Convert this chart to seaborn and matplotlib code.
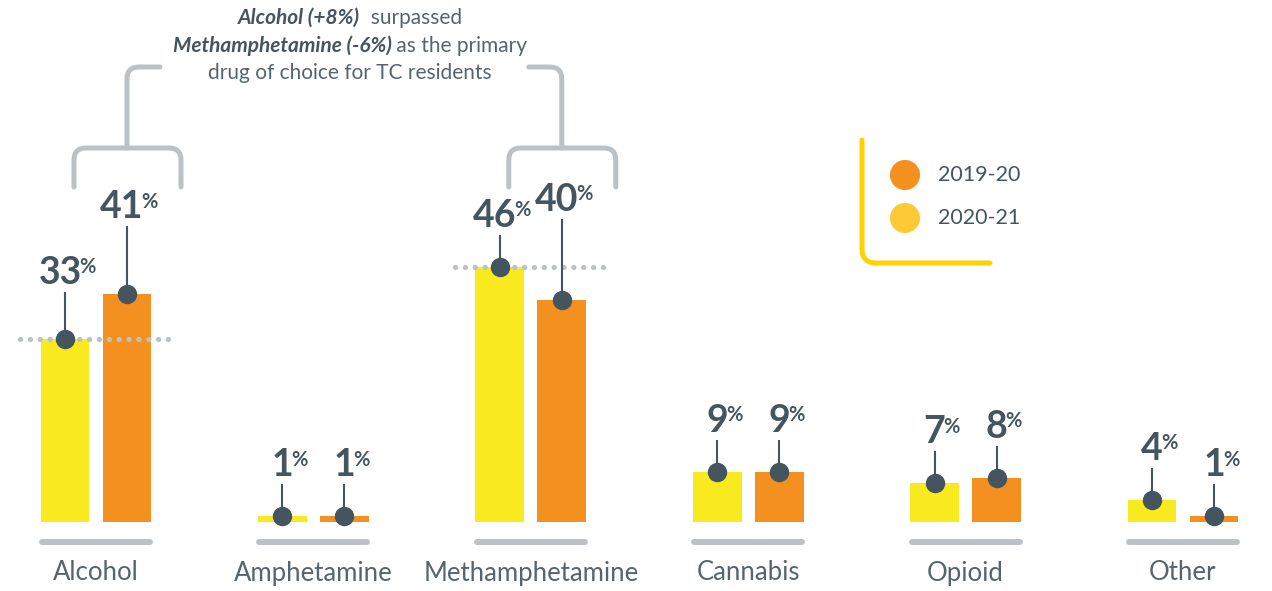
"""
Primary drug of choice for TC residents, 2019-20 vs 2020-21.
Paired bars with pin labels, drawn with seaborn.
"""

import numpy as np
import pandas as pd
import matplotlib
matplotlib.use("Agg")
import matplotlib.pyplot as plt
from matplotlib.path import Path
from matplotlib.patches import PathPatch
import seaborn as sns


# ─────────────────────────────────────────────
# Data
# ─────────────────────────────────────────────

categories = ["Alcohol", "Amphetamine", "Methamphetamine", "Cannabis", "Opioid", "Other"]
periods = ["2020-21", "2019-20"]          # left (yellow) bar, right (orange) bar
share_2020_21 = [33, 1, 46, 9, 7, 4]
share_2019_20 = [41, 1, 40, 9, 8, 1]
legend_labels = ["2019-20", "2020-21"]
headline = [
    [("Alcohol (+8%)", "em"), ("  surpassed", "plain")],
    [("Methamphetamine (-6%)", "em"), (" as the primary", "plain")],
    [("drug of choice for TC residents", "plain")],
]
reference_cats = ["Alcohol", "Methamphetamine"]   # dotted level lines
bracket_cats = ["Alcohol", "Methamphetamine"]     # brackets over the orange labels

# ─────────────────────────────────────────────
# Style
# ─────────────────────────────────────────────

YELLOW = "#f9ea1f"
ORANGE = "#f39020"
LEG_YELLOW = "#fdca35"
GOLD = "#ffd200"
SLATE = "#44555f"
TEXT = "#56656d"
GREY = "#bcc1c6"

W, H, DPI = 1272, 591, 100
PX_CAT = 217.4      # pixels between category centres
PX_PCT = 5.55       # pixels per percentage point
X0, BASE = 96, 522  # pixel position of first group centre / baseline

# pin length (px from bar top to line top); a few are lifted to clear brackets
lead_px = {("Alcohol", 0): 47, ("Alcohol", 1): 68, ("Methamphetamine", 1): 81}
LEAD_DEFAULT = 32


def dx(p):
    return p / PX_CAT


def dy(p):
    return p / PX_PCT


def to_data(px, py):
    """Pixel position (from top-left) to data coordinates."""
    return (px - X0) / PX_CAT, (BASE - py) / PX_PCT


def rounded_path(points, r):
    """Polyline with quadratic rounded corners, r in pixels."""
    verts, codes = [points[0]], [Path.MOVETO]
    for i in range(1, len(points) - 1):
        p0, p1, p2 = map(np.array, points[i - 1:i + 2])
        a = p1 - p0
        b = p2 - p1
        a_px = np.array([a[0] * PX_CAT, a[1] * PX_PCT])
        b_px = np.array([b[0] * PX_CAT, b[1] * PX_PCT])
        ua = a / np.linalg.norm(a_px) * r
        ub = b / np.linalg.norm(b_px) * r
        verts += [tuple(p1 - ua), tuple(p1), tuple(p1 + ub)]
        codes += [Path.LINETO, Path.CURVE3, Path.CURVE3]
    verts.append(points[-1])
    codes.append(Path.LINETO)
    return Path(verts, codes)


def draw_path(ax, points, color, lw, r=12, z=1):
    ax.add_patch(PathPatch(rounded_path(points, r), fill=False, edgecolor=color,
                           lw=lw, capstyle="round", joinstyle="round", zorder=z))


# ─────────────────────────────────────────────
# Plot
# ─────────────────────────────────────────────

sns.set_style("white")
plt.rcParams["font.family"] = ["Lato", "DejaVu Sans"]
plt.rcParams["lines.scale_dashes"] = False

df = pd.DataFrame({
    "category": categories * 2,
    "period": [periods[0]] * len(categories) + [periods[1]] * len(categories),
    "share": share_2020_21 + share_2019_20,
})

fig = plt.figure(figsize=(W / DPI, H / DPI), dpi=DPI)
ax = fig.add_axes([0, 0, 1, 1])

sns.barplot(
    data=df, x="category", y="share", hue="period",
    order=categories, hue_order=periods,
    palette=[YELLOW, ORANGE], width=0.57, gap=0.21,
    errorbar=None, legend=False, saturation=1, ax=ax,
)
for bar in ax.patches:
    bar.set_linewidth(0)

ax.set_xlim(-X0 / PX_CAT, (W - X0) / PX_CAT)
ax.set_ylim(-(H - BASE) / PX_PCT, BASE / PX_PCT)
ax.axis("off")

# dotted level lines at the 2020-21 value
for cat in reference_cats:
    i = categories.index(cat)
    level = share_2020_21[i]
    ax.plot([i - dx(76), i + dx(76)], [level, level], color=GREY, lw=3.8,
            linestyle=(0, (0.1, 7.0)), dash_capstyle="round", zorder=3)

# pins, dots and value labels
for k, container in enumerate(ax.containers):
    for i, bar in enumerate(container):
        x = bar.get_x() + bar.get_width() / 2
        h = bar.get_height()
        cat = categories[i]
        top = h + dy(lead_px.get((cat, k), LEAD_DEFAULT))
        ax.plot([x, x], [h, top], color=SLATE, lw=1.5, zorder=4,
                solid_capstyle="butt")
        ax.plot(x, h, "o", ms=14, color=SLATE, mec="none", zorder=5)

        label = f"{h:.0f}"
        shift = -dx(5) if len(label) > 1 else 0
        num = ax.text(x + shift, top + dy(8), label, ha="center", va="baseline",
                      fontsize=27, fontweight="bold", color=SLATE, zorder=6)
        ax.annotate("%", xy=(1, 1), xycoords=num, xytext=(-1.5, -1),
                    textcoords="offset points", ha="left", va="top",
                    fontsize=14.5, fontweight="bold", color=SLATE)

# category labels with grey rules
for i, cat in enumerate(categories):
    ax.plot([i - dx(54), i + dx(54)], [dy(-20)] * 2, color=GREY, lw=4.3,
            solid_capstyle="round", zorder=2)
    ax.text(i, dy(-51), cat, ha="center", va="center", fontsize=18.5,
            color=TEXT)

# brackets over the orange labels
for cat in bracket_cats:
    i = categories.index(cat)
    xo = ax.containers[1][i].get_x() + ax.containers[1][i].get_width() / 2
    y_leg, y_top = to_data(0, 187)[1], to_data(0, 148)[1]
    y_stem = to_data(0, 67)[1]
    draw_path(ax, [(xo - dx(53), y_leg), (xo - dx(53), y_top),
                   (xo + dx(54), y_top), (xo + dx(54), y_leg)], GREY, 3.6)
    turn = 1 if i == 0 else -1
    draw_path(ax, [(xo, y_top), (xo, y_stem), (xo + turn * dx(33), y_stem)],
              GREY, 3.6)

# headline, centred line by line with mixed styles
renderer = fig.canvas.get_renderer()
for row, parts in enumerate(headline):
    y = 1 - (18 + row * 27.5) / H
    pieces = []
    for txt, kind in parts:
        kw = dict(fontsize=15, va="center", ha="left")
        if kind == "em":
            kw.update(fontweight="bold", fontstyle="italic", color=SLATE)
        else:
            kw.update(color=TEXT)
        pieces.append(fig.text(0, y, txt, **kw))
    widths = [p.get_window_extent(renderer).width for p in pieces]
    start = 350 - sum(widths) / 2
    for p, w in zip(pieces, widths):
        p.set_x(start / W)
        start += w

# legend with gold corner line
draw_path(ax, [to_data(862, 140), to_data(862, 263), to_data(990, 263)],
          GOLD, 3.6, r=14)
for j, (lab, col) in enumerate(zip(legend_labels, [ORANGE, LEG_YELLOW])):
    lx, ly = to_data(905, 175 + j * 43)
    ax.scatter([lx], [ly], s=470, color=col, edgecolor="none", zorder=5)
    ax.text(to_data(938, 0)[0], ly, lab, ha="left", va="center",
            fontsize=15.5, color=SLATE)

plt.savefig("out.png", dpi=DPI)
plt.close()
